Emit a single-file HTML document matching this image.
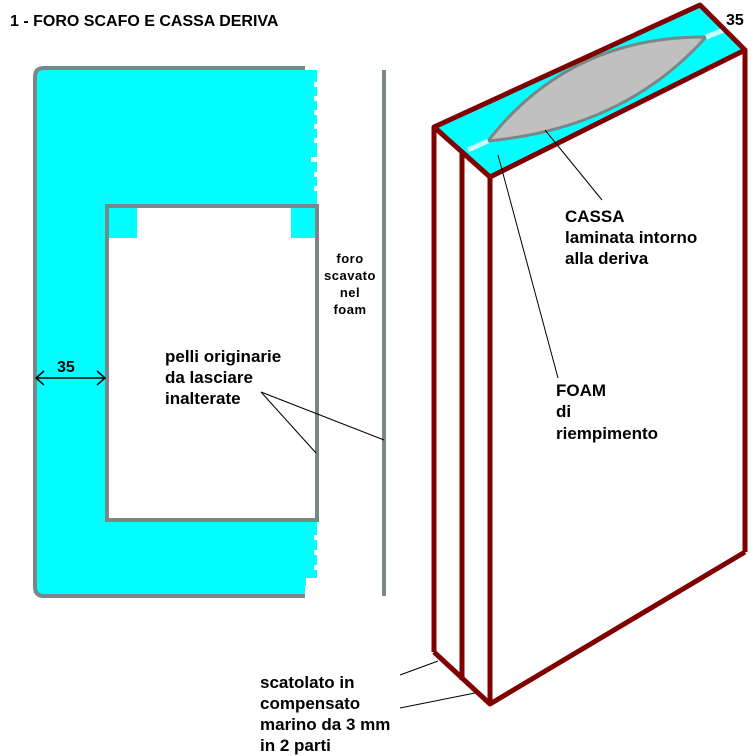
<!DOCTYPE html>
<html><head><meta charset="utf-8"><style>
html,body{margin:0;padding:0;background:#fff;}
svg{display:block;}
text{font-family:"Liberation Sans",Arial,sans-serif;font-weight:bold;fill:#000;}
</style></head><body>
<svg width="756" height="756" viewBox="0 0 756 756" xmlns="http://www.w3.org/2000/svg">
<rect width="756" height="756" fill="#fff"/>
<text x="10" y="26" font-size="16">1 - FORO SCAFO E CASSA DERIVA</text>
<!-- left plan -->
<path d="M305,68 L44,68 Q35,68 35,77 L35,587 Q35,596 44,596 L305,596" fill="#00ffff" stroke="#7a8787" stroke-width="4"/>
<rect x="303" y="70" width="14" height="134" fill="#00ffff"/>
<rect x="303" y="522" width="14" height="64" fill="#00ffff"/>
<g fill="#fff">
<rect x="314" y="82" width="4" height="5"/><rect x="314" y="96" width="4" height="5"/><rect x="314" y="110" width="4" height="5"/><rect x="314" y="124" width="4" height="5"/><rect x="314" y="138" width="4" height="5"/><rect x="311" y="157" width="7" height="5"/><rect x="314" y="172" width="4" height="5"/><rect x="314" y="186" width="4" height="5"/>
<rect x="314" y="535" width="4" height="5"/><rect x="314" y="550" width="4" height="5"/><rect x="314" y="565" width="4" height="5"/><rect x="306" y="578" width="12" height="18"/>
</g>
<rect x="107" y="206" width="210" height="314" fill="#fff" stroke="#7a8787" stroke-width="4"/>
<rect x="109" y="208" width="28" height="30" fill="#00ffff"/>
<rect x="291" y="208" width="24" height="30" fill="#00ffff"/>
<line x1="384" y1="70" x2="384" y2="596" stroke="#7a8787" stroke-width="4"/>
<g font-size="13" text-anchor="middle" letter-spacing="0.5">
<text x="350" y="263">foro</text>
<text x="350" y="280">scavato</text>
<text x="350" y="297">nel</text>
<text x="350" y="314">foam</text>
</g>
<text x="57" y="372" font-size="16">35</text>
<line x1="36" y1="378" x2="105" y2="378" stroke="#000" stroke-width="1.5"/>
<polyline points="44,371 36,378 44,385" fill="none" stroke="#000" stroke-width="1.5"/>
<polyline points="97,371 105,378 97,385" fill="none" stroke="#000" stroke-width="1.5"/>
<text x="165" y="362" font-size="17">pelli originarie</text>
<text x="165" y="383" font-size="17">da lasciare</text>
<text x="165" y="404" font-size="17">inalterate</text>
<line x1="261" y1="392" x2="316" y2="453" stroke="#000" stroke-width="1"/>
<line x1="261" y1="392" x2="384" y2="440" stroke="#000" stroke-width="1"/>
<!-- 3D box -->
<polygon points="434,127 700,5 745,50 490,177" fill="#00ffff"/>
<path d="M488,141 Q570,36 706,37 Q625,128 488,141 Z" fill="#c0c0c0" stroke="#7a8787" stroke-width="3"/>
<line x1="468" y1="150" x2="488" y2="141" stroke="#c8ffff" stroke-width="5"/>
<line x1="706" y1="37" x2="724" y2="30" stroke="#c8ffff" stroke-width="5"/>
<g stroke="#800000" stroke-width="5" fill="none" stroke-linejoin="round">
<polygon points="434,127 700,5 745,50 490,177"/>
<line x1="434" y1="127" x2="434" y2="652"/>
<line x1="462" y1="152" x2="462" y2="680"/>
<line x1="490" y1="177" x2="490" y2="704"/>
<line x1="745" y1="50" x2="745" y2="552"/>
<polyline points="434,652 490,704 745,552"/>
</g>
<text x="726" y="25" font-size="16">35</text>
<line x1="545" y1="130" x2="602" y2="200" stroke="#000" stroke-width="1"/>
<line x1="498" y1="155" x2="558" y2="378" stroke="#000" stroke-width="1"/>
<text x="565" y="222" font-size="17">CASSA</text>
<text x="565" y="243" font-size="17">laminata intorno</text>
<text x="565" y="264" font-size="17">alla deriva</text>
<text x="556" y="396" font-size="17">FOAM</text>
<text x="556" y="417" font-size="17">di</text>
<text x="556" y="439" font-size="17">riempimento</text>
<line x1="400" y1="675" x2="438" y2="661" stroke="#000" stroke-width="1"/>
<line x1="400" y1="708" x2="475" y2="693" stroke="#000" stroke-width="1"/>
<text x="260" y="688" font-size="17">scatolato in</text>
<text x="260" y="709" font-size="17">compensato</text>
<text x="260" y="730" font-size="17">marino da 3 mm</text>
<text x="260" y="751" font-size="17">in 2 parti</text>
</svg>
</body></html>
